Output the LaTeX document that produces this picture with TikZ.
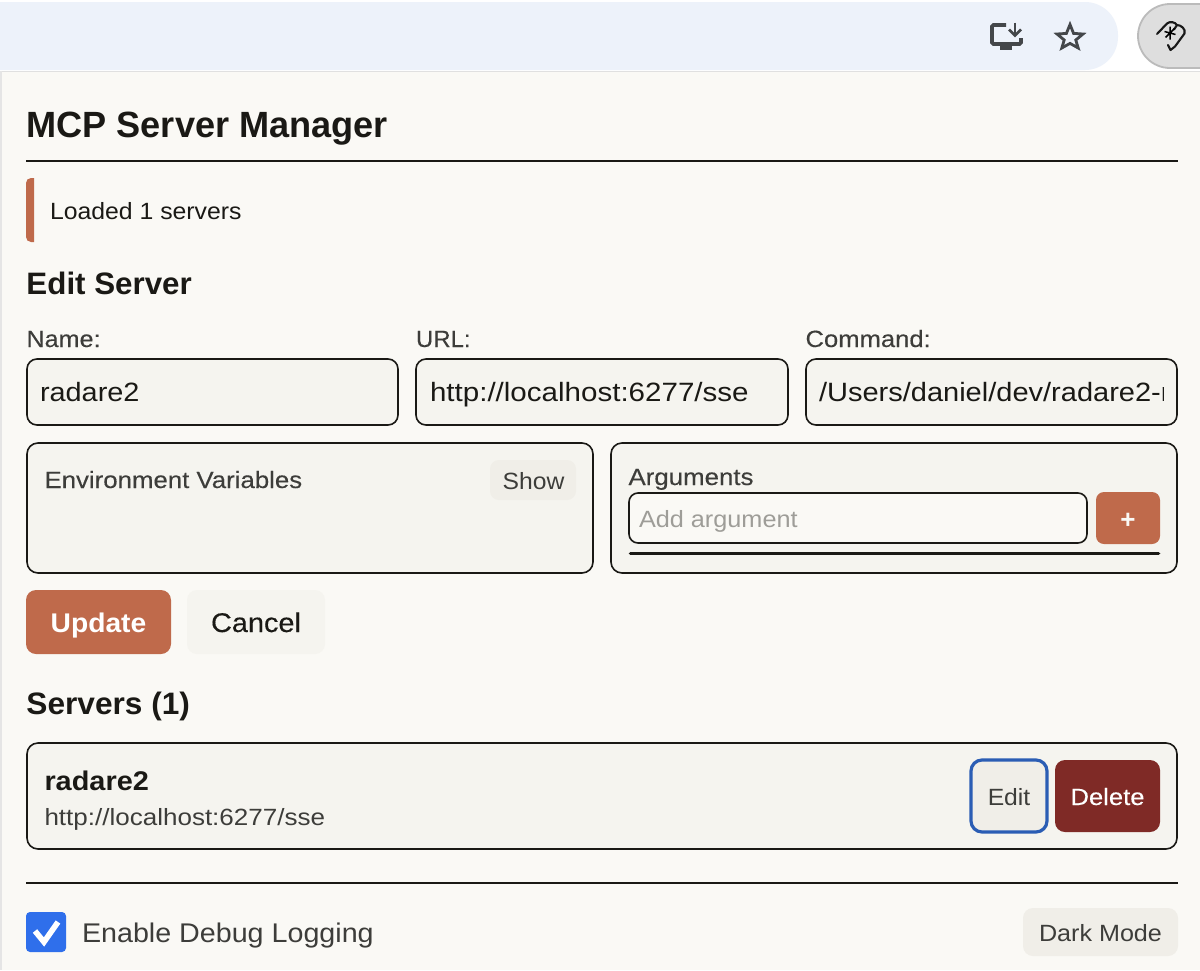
\documentclass[tikz,border=0pt]{standalone}
\usepackage{graphicx}
\usepackage{fontspec}
\setmainfont{Liberation Sans}
\newfontfamily\medf[FakeBold=0.22]{Liberation Sans}
\definecolor{panel}{HTML}{FAF9F5}
\definecolor{field}{HTML}{F5F4EF}
\definecolor{ink}{HTML}{1A1915}
\definecolor{soft}{HTML}{3D3D3A}
\definecolor{rust}{HTML}{BF6A4B}
\definecolor{wine}{HTML}{7F2A26}
\definecolor{focus}{HTML}{2B5DB4}
\definecolor{chip}{HTML}{F0EEE8}
\definecolor{bar}{HTML}{EDF2FA}
\definecolor{check}{HTML}{2F6FEB}
\definecolor{hint}{HTML}{9E9D98}
\definecolor{tool}{HTML}{44474A}
\definecolor{pill}{HTML}{DEDEDE}
\definecolor{pilledge}{HTML}{BBBBBB}
\tikzset{
  x=1pt,y=-1pt,
  boxed/.style={draw=ink,line width=1.6pt,fill=field,rounded corners=11pt},
  inputbox/.style={draw=ink,line width=1.6pt,fill=field,rounded corners=10pt},
  txt/.style={anchor=base west,inner sep=0pt,outer sep=0pt,text=#1},
  txt/.default=soft,
  mid/.style={anchor=base,inner sep=0pt,outer sep=0pt,text=#1},
  rule/.style={ink,line width=1.6pt},
}
\newcommand{\fs}[1]{\fontsize{#1}{#1}\selectfont}
\newcommand{\sx}[2]{\scalebox{#1}[1]{#2}}
\begin{document}
\begin{tikzpicture}
\useasboundingbox (0,0) rectangle (1200,970);
\fill[white] (0,0) rectangle (1200,970);
% toolbar
\fill[bar,rounded corners=33pt] (-60,2) rectangle (1118,70);
\draw[draw=pilledge,line width=1.8pt,fill=pill,rounded corners=32pt] (1138,4) rectangle (1240,68);
% monitor icon
\draw[tool,line width=3.6pt,rounded corners=1.5pt] (1006,25) -- (992,25) -- (992,44) -- (1021,44) -- (1021,38);
\fill[tool] (1000,44) rectangle (1012,49.5);
\draw[tool,line width=2.8pt] (1015,22.5) -- (1015,35);
\draw[tool,line width=2.8pt] (1009,29.5) -- (1015,35.5) -- (1021,29.5);
% star icon
\draw[tool,line width=2.8pt,line join=miter]
  (1070,24.5) -- (1073.6,33.4) -- (1083,34) -- (1075.8,40) -- (1078.2,48)
  -- (1070,43.4) -- (1061.8,48) -- (1064.2,40) -- (1057,34) -- (1066.4,33.4) -- cycle;
% extension icon
\draw[black!90,line width=2.1pt,line join=round,line cap=round]
  (1157,34) -- (1167,23.5) .. controls (1170,21) and (1175,22) .. (1177,25)
  .. controls (1181,25) and (1186,29) .. (1184.5,33.5) -- (1175,46.5) -- (1170.5,50) -- (1168,45);
\draw[black!90,line width=2.1pt,line cap=round] (1177,25) -- (1174,29.5);
\draw[black,line width=1.5pt]
  (1164.5,31.5) -- (1175.5,34.5) (1170,26.5) -- (1170,39.5) (1165.5,37.5) -- (1174.5,28.5);
% panel
\fill[black!12] (0,71) rectangle (1200,72);
\fill[panel] (2,72) rectangle (1200,970);
\fill[black!10] (0,71) rectangle (2,970);
% title
\node[txt=ink,font=\fs{36.5}\bfseries] (title) at (26.5,137) {\sx{0.99}{MCP Server Manager}};
\draw[rule] (26,161) -- (1178,161);
% status
\fill[rust] (34,178) -- (34,242) [rounded corners=5pt] -- (26,242) -- (26,178) [sharp corners] -- cycle;
\node[txt=ink,font=\fs{23.5}] (status) at (50,219) {\sx{1.055}{Loaded 1 servers}};
% edit server
\node[txt=ink,font=\fs{31}\bfseries] (edith) at (26.5,294) {\sx{1.01}{Edit Server}};
\node[txt,font=\fs{23.5}\medf] (lname) at (26.5,347) {\sx{1.07}{Name:}};
\node[txt,font=\fs{23.5}\medf] (lurl) at (416,347) {\sx{1.02}{URL:}};
\node[txt,font=\fs{23.5}\medf] (lcmd) at (805.5,347) {\sx{1.09}{Command:}};
\draw[inputbox] (27,359) rectangle (398,425);
\node[txt=ink,font=\fs{26.5}] (vname) at (40,401) {\sx{1.09}{radare2}};
\draw[inputbox] (416,359) rectangle (788,425);
\node[txt=ink,font=\fs{26.5}] (vurl) at (430,401) {\sx{1.115}{http://localhost:6277/sse}};
\draw[inputbox] (806,359) rectangle (1177,425);
\begin{scope}
\clip (806,359) rectangle (1163.5,425);
\node[txt=ink,font=\fs{26.5}] (vcmd) at (819,401) {\sx{1.095}{/Users/daniel/dev/radare2-r}};
\end{scope}
% env
\draw[boxed] (27,443) rectangle (593,573);
\node[txt,font=\fs{23.5}\medf] (env) at (44.5,488) {\sx{1.098}{Environment Variables}};
\fill[chip,rounded corners=9pt] (490,460) rectangle (576,500);
\node[mid=soft,font=\fs{23.5}] (show) at (533.5,489) {\sx{1.05}{Show}};
% args
\draw[boxed] (611,443) rectangle (1177,573);
\node[txt,font=\fs{23.5}\medf] (args) at (628.5,485) {\sx{1.10}{Arguments}};
\draw[draw=ink,line width=1.6pt,fill=panel,rounded corners=9pt] (629,493) rectangle (1087,543);
\node[txt=hint,font=\fs{23.5}] (addarg) at (639,527) {\sx{1.075}{Add argument}};
\fill[rust,rounded corners=8pt] (1096,492) rectangle (1160,544);
\node[mid=panel,font=\fs{26}\bfseries] (plus) at (1128,528) {+};
\draw[ink,line width=3.6pt,line cap=round] (630.5,553.5) -- (1158.5,553.5);
% buttons
\fill[rust,rounded corners=10pt] (26,590) rectangle (171,654);
\node[mid=white,font=\fs{27}\bfseries] (update) at (98.5,632) {\sx{1.045}{Update}};
\fill[field,rounded corners=10pt] (187,590) rectangle (325,654);
\node[mid=ink,font=\fs{27}\medf] (cancel) at (256,632) {\sx{1.07}{Cancel}};
% servers
\node[txt=ink,font=\fs{31}\bfseries] (servh) at (26.5,714) {\sx{1.02}{Servers (1)}};
\draw[boxed] (27,743) rectangle (1177,849);
\node[txt=ink,font=\fs{27}\bfseries] (sname) at (44.5,790) {\sx{1.07}{radare2}};
\node[txt,font=\fs{23.5}] (surl) at (44.5,825) {\sx{1.107}{http://localhost:6277/sse}};
\draw[draw=focus,line width=3.2pt,fill=chip,rounded corners=11pt] (971,760) rectangle (1047,832);
\node[mid=soft,font=\fs{23.5}] (edit) at (1009,805) {\sx{1.05}{Edit}};
\fill[wine,rounded corners=10pt] (1055,760) rectangle (1160,832);
\node[mid=white,font=\fs{23.5}\medf] (delete) at (1107.5,805) {\sx{1.09}{Delete}};
\draw[rule] (26,883) -- (1178,883);
% footer
\fill[check,rounded corners=4pt] (26,912) rectangle (66,952);
\draw[white,line width=5.6pt] (35,931) -- (44,942) -- (58,922);
\node[txt,font=\fs{27}] (debug) at (82,942) {\sx{1.062}{Enable Debug Logging}};
\fill[chip,rounded corners=10pt] (1023,908) rectangle (1178,956);
\node[mid=soft,font=\fs{23.5}] (dark) at (1100.5,941) {\sx{1.07}{Dark Mode}};
\end{tikzpicture}
\end{document}
